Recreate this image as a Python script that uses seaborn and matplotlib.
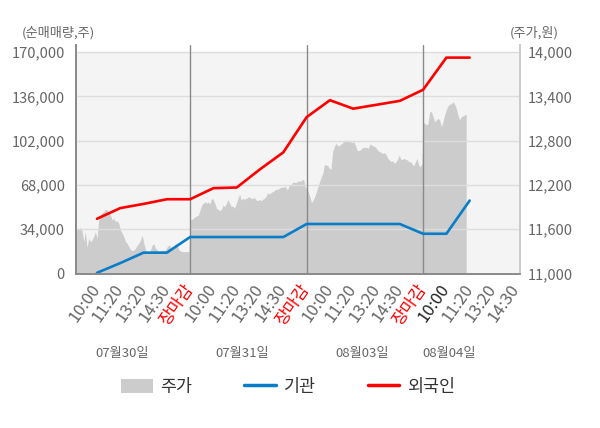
import numpy as np
import pandas as pd
import matplotlib
matplotlib.use("Agg")
import matplotlib.pyplot as plt
import matplotlib.transforms as mtransforms
from matplotlib.patches import Patch
from matplotlib.lines import Line2D
import seaborn as sns

# x axis labels (5 slots per trading day)
tick_labels = ["10:00", "11:20", "13:20", "14:30", "장마감"] * 3 + ["10:00", "11:20", "13:20", "14:30"]
dates = ["07월30일", "07월31일", "08월03일", "08월04일"]

# net buy volume (shares) at each time slot, 10:00 day1 .. 11:20 day4
flow_pos = list(range(1, 18))
inst = [500, 8000, 16000, 16000, 28000,
        28000, 28000, 28000, 28000, 38000,
        38000, 38000, 38000, 38000, 30500,
        30500, 56000]
foreign = [42000, 50200, 53400, 57000, 57000,
           65500, 66000, 80000, 93000, 120000,
           133000, 126500, 129500, 132500, 141000,
           165700, 165700]

# intraday price (won)
price_d1 = [11363, 11566, 11598, 11598, 11625, 11589, 11431, 11566, 11354, 11476,
            11431, 11454, 11499, 11566, 11476, 11724, 11792, 11824, 11837, 11869,
            11860, 11815, 11792, 11724, 11747, 11702, 11715, 11679, 11589, 11544,
            11499, 11431, 11409, 11363, 11327, 11309, 11318, 11341, 11386, 11409,
            11454, 11521, 11409, 11318, 11296, 11296, 11318, 11386, 11400, 11341,
            11318, 11296, 11305, 11318, 11305, 11318, 11363, 11386, 11363, 11341,
            11363, 11409, 11386, 11318, 11305, 11296, 11296, 11296, 11296, 11296]
price_d2 = [11724, 11733, 11747, 11769, 11778, 11792, 11860, 11927, 11950, 11972,
            11950, 11972, 11941, 12017, 12004, 11950, 11882, 11869, 11851, 11869,
            11927, 11905, 11950, 12004, 11950, 11905, 11914, 11882, 11950, 12017,
            12076, 11995, 12017, 12004, 12017, 12031, 12040, 12017, 12017, 12031,
            11995, 11986, 12004, 11986, 12004, 12017, 12040, 12094, 12076, 12094,
            12108, 12121, 12139, 12139, 12153, 12166, 12166, 12175, 12175, 12130,
            12184, 12198, 12230, 12239, 12230, 12243, 12257, 12243, 12275, 12266,
            12153]
price_d3 = [12176, 12108, 12040, 11959, 11995, 12040, 12108, 12176, 12243, 12311,
            12356, 12478, 12469, 12460, 12424, 12410, 12650, 12717, 12762, 12740,
            12726, 12753, 12762, 12808, 12799, 12808, 12799, 12785, 12772, 12785,
            12740, 12672, 12663, 12672, 12695, 12708, 12708, 12708, 12695, 12753,
            12740, 12726, 12717, 12695, 12663, 12650, 12636, 12627, 12636, 12605,
            12559, 12537, 12514, 12528, 12492, 12514, 12546, 12605, 12546, 12546,
            12559, 12546, 12537, 12514, 12514, 12483, 12456, 12514, 12559, 12469,
            12447, 12492]
price_d4 = [13043, 13034, 13011, 13034, 13192, 13192, 13124, 13056, 13079, 13101,
            13079, 12989, 13056, 13147, 13214, 13268, 13295, 13295, 13327, 13295,
            13237, 13147, 13079, 13124, 13133, 13147, 13160]

day_spans = [(0.0, 4.95), (5.0, 9.95), (10.0, 14.95), (15.0, 16.85)]
price_days = [price_d1, price_d2, price_d3, price_d4]
px = np.concatenate([np.linspace(a, b, len(p)) for (a, b), p in zip(day_spans, price_days)])
py = np.concatenate(price_days)

flows = pd.DataFrame({
    "pos": flow_pos * 2,
    "qty": inst + foreign,
    "who": ["기관"] * len(inst) + ["외국인"] * len(foreign),
})

sns.set_theme(style="white")
plt.rcParams["font.family"] = ["Noto Sans CJK KR", "DejaVu Sans"]

BLUE = "#0a7dc8"
RED = "#ff0000"
GREY_TXT = "#666666"

fig = plt.figure(figsize=(6, 4.28), dpi=100)
ax = fig.add_axes([76 / 600, (428 - 273.5) / 428, 444 / 600, 228.5 / 428])
ax2 = ax.twinx()
ax.set_zorder(ax2.get_zorder() + 1)
ax.patch.set_visible(False)
ax2.set_facecolor("white")

# price area on the right axis
ax2.axhspan(11000, 14000, color="#f4f4f4", zorder=0, lw=0)
ax2.fill_between(px, 11000, py, color="#cccccc", lw=0, zorder=1)
ax2.set_ylim(11000, 11000 + 3000 * 228.5 / 221.5)
ax2.set_yticks(np.arange(11000, 14001, 600))
ax2.set_yticklabels([f"{v:,}" for v in range(11000, 14001, 600)])
ax2.tick_params(axis="y", length=0, pad=5.5, labelsize=10.5, labelcolor=GREY_TXT)

# net buy lines on the left axis
sns.lineplot(data=flows, x="pos", y="qty", hue="who",
             palette={"기관": BLUE, "외국인": RED}, lw=1.9, legend=False, ax=ax)
ax.set_ylim(0, 170000 * 228.5 / 221.5)
yt = list(range(0, 170001, 34000))
ax.set_yticks(yt)
ax.set_yticklabels([f"{v:,}" for v in yt])
ax.tick_params(axis="y", length=0, pad=8, labelsize=10.5, labelcolor=GREY_TXT)
for v in yt:
    ax.axhline(v, color="#dddddd", lw=1, zorder=0.5)
for d in [5, 10, 15]:
    ax.axvline(d, color="#8a8a8a", lw=1, zorder=0.6)

ax.set_xlim(0.1, 19.16)
ax.set_xticks(range(1, 20))
ax.set_xticklabels(tick_labels, rotation=55, ha="right", va="center",
                   rotation_mode="anchor", fontsize=12)
ax.set_xticks([5, 10, 15], minor=True)
ax.tick_params(axis="x", which="major", length=0, pad=9)
ax.tick_params(axis="x", which="minor", length=4, width=1, color="#8a8a8a", direction="out")
for i, lab in enumerate(ax.get_xticklabels()):
    if tick_labels[i] == "장마감":
        lab.set_color(RED)
    elif i == 15:
        lab.set_color("#222222")
    else:
        lab.set_color(GREY_TXT)
ax.set_xlabel("")
ax.set_ylabel("")

for a in (ax, ax2):
    a.spines["top"].set_visible(False)
    a.spines["left"].set_color("#8a8a8a")
    a.spines["bottom"].set_color("#8a8a8a")
    a.spines["right"].set_color("#cccccc")

# day labels under the time axis
date_x = [2.1, 7.25, 12.4, 16.1]
trans = mtransforms.blended_transform_factory(ax.transData, ax.transAxes)
for x, d in zip(date_x, dates):
    ax.text(x, -0.348, d, transform=trans, ha="center", va="center",
            fontsize=9.5, color=GREY_TXT)

fig.text(22 / 600, 1 - 33 / 428, "(순매매량,주)", ha="left", va="center", fontsize=9.5, color=GREY_TXT)
fig.text(510 / 600, 1 - 33 / 428, "(주가,원)", ha="left", va="center", fontsize=9.5, color=GREY_TXT)

handles = [Patch(facecolor="#cccccc", edgecolor="none"),
           Line2D([], [], color=BLUE, lw=2.5),
           Line2D([], [], color=RED, lw=2.5)]
fig.legend(handles, ["주가", "기관", "외국인"], loc="center",
           bbox_to_anchor=(288 / 600, 1 - 387 / 428), ncol=3, frameon=False,
           fontsize=12.5, handlelength=1.8, handleheight=0.9, handletextpad=0.45,
           columnspacing=3.0, labelcolor="#333333")

fig.savefig("out.png", dpi=100)
